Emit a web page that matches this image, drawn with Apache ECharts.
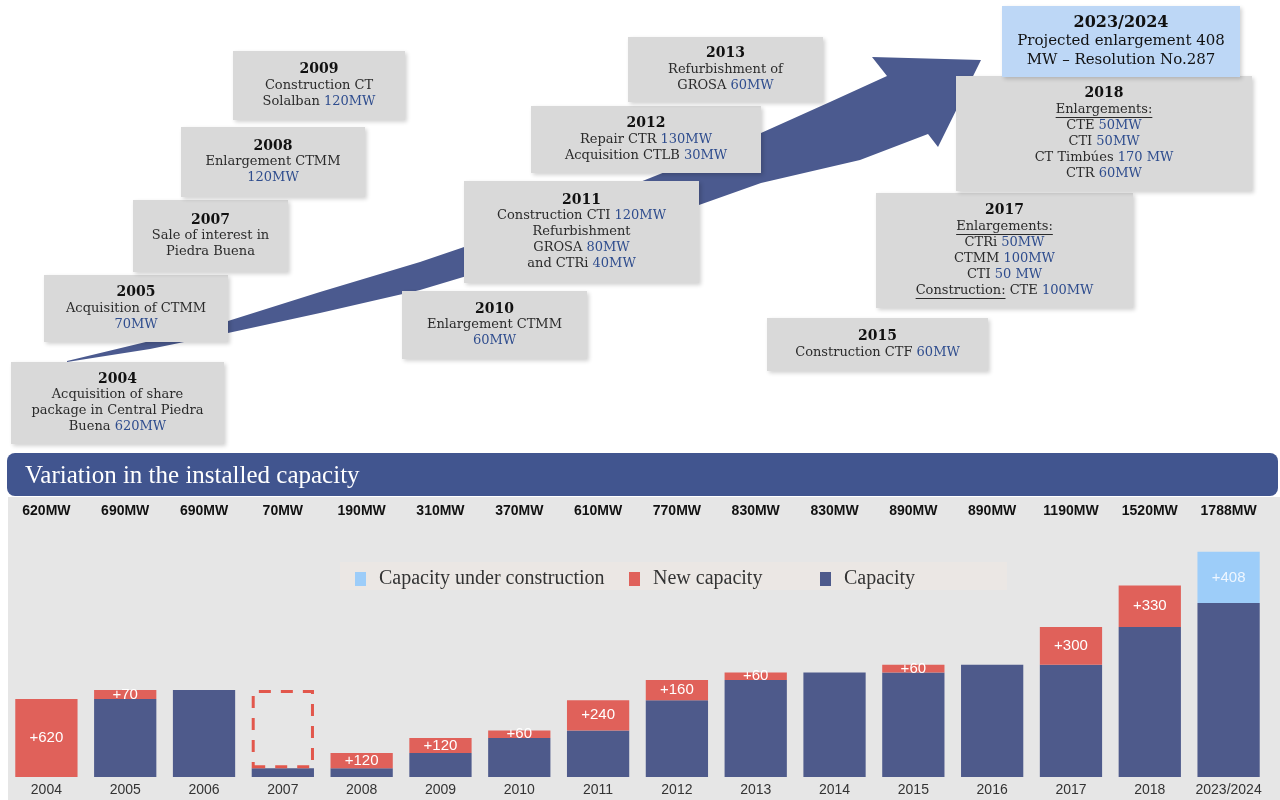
<!DOCTYPE html>
<html><head><meta charset="utf-8">
<script src="https://cdn.jsdelivr.net/npm/echarts/dist/echarts.min.js"></script>
<style>html,body{margin:0;padding:0;background:#fff}#c{width:1280px;height:800px}</style>
</head><body><div id="c"></div>
<script>
// ---- Data ----
const years = ['2004','2005','2006','2007','2008','2009','2010','2011','2012','2013','2014','2015','2016','2017','2018','2023/2024'];
const capacity = [null,620,690,70,70,190,310,370,610,770,830,830,890,890,1190,1380];
const newCapacity = [620,70,null,null,120,120,60,240,160,60,null,60,null,300,330,null];
const soldCapacity = [null,null,null,620,null,null,null,null,null,null,null,null,null,null,null,null];
const underConstruction = [null,null,null,null,null,null,null,null,null,null,null,null,null,null,null,408];
const totalLabels = ['620MW','690MW','690MW','70MW','190MW','310MW','370MW','610MW','770MW','830MW','830MW','890MW','890MW','1190MW','1520MW','1788MW'];

const eventYears = ['2004','2005','2007','2008','2009','2010','2011','2012','2013','2015','2017','2018','2023/2024'];
const eventTexts = [
  ['Acquisition of share','package in Central Piedra','Buena [620MW]'],
  ['Acquisition of CTMM','[70MW]'],
  ['Sale of interest in','Piedra Buena'],
  ['Enlargement CTMM','[120MW]'],
  ['Construction CT','Solalban [120MW]'],
  ['Enlargement CTMM','[60MW]'],
  ['Construction CTI [120MW]','Refurbishment','GROSA [80MW]','and CTRi [40MW]'],
  ['Repair CTR [130MW]','Acquisition CTLB [30MW]'],
  ['Refurbishment of','GROSA [60MW]'],
  ['Construction CTF [60MW]'],
  ['_Enlargements:_','CTRi [50MW]','CTMM [100MW]','CTI [50 MW]','_Construction:_ CTE [100MW]'],
  ['_Enlargements:_','CTE [50MW]','CTI [50MW]','CT Timbúes [170 MW]','CTR [60MW]'],
  ['Projected enlargement 408','MW – Resolution No.287']
];
// layout of annotation boxes [x, y, w, h]
const boxLayout = [
  [11,362,213,82],[44,275,184,67],[133,200,155,72],[181,127,184,70],[233,51,172,69],
  [402,291,185,68],[464,181,235,102],[531,106,230,67],[628,37,195,65],[767,318,221,53],
  [876,193,257,115],[956,76,296,115],[1002,6,238,71]
];

// ---- Styling ----
const NAVY = '#4e5a8b', RED = '#e0615a', LBLUE = '#9dcdf9';
const SERIF = '"DejaVu Serif", Georgia, serif';
const mctx = document.createElement('canvas').getContext('2d');
function tw(s, font){ mctx.font = font; return mctx.measureText(s).width; }
function parseLine(s){
  const parts = s.split(/(\[[^\]]+\]|_[^_]+_)/).filter(p => p.length);
  return parts.map(p => {
    if (p[0] === '[') return {t:p.slice(1,-1), s:'m'};
    if (p[0] === '_') return {t:p.slice(1,-1), s:'u'};
    return {t:p, s:'t'};
  });
}

const graphics = [];
// arrow (decorative shape)
const arrowPts = [[67,361],[150,341],[228,321],[320,292],[420,262],[520,228],[600,198],[680,166],[761,133],[830,102],[887,76],[872,57],[981,60],[938,147],[928,134],[860,160],[761,183],[699,205],[600,236],[520,260],[420,290],[320,313],[228,333],[150,349],[67,362]];
graphics.push({type:'polygon', z:-5, silent:true, shape:{points:arrowPts}, style:{fill:'#4b5a8f'}});

eventYears.forEach((yr, i) => {
  const [bx,by,bw,bh] = boxLayout[i];
  const big = i === eventYears.length - 1;
  const fs = big ? 15 : 13, lh = big ? 19 : 16;
  const lines = [yr].concat(eventTexts[i]);
  const startY = (bh - lines.length*lh)/2 + lh/2;
  const children = [{type:'rect', shape:{x:0,y:0,width:bw,height:bh},
    style:{fill: big ? '#bdd7f6' : '#d9d9d9', shadowBlur:4, shadowOffsetX:2, shadowOffsetY:2, shadowColor:'rgba(0,0,0,0.18)'}}];
  const rich = {
    y:{fontSize:fs+1, fontFamily:SERIF, fontWeight:'bold', fill:'#111'},
    t:{fontSize:fs, fontFamily:SERIF, fill: big ? '#111' : '#2b2b2b'},
    u:{fontSize:fs, fontFamily:SERIF, fill:'#2b2b2b'},
    m:{fontSize:fs, fontFamily:SERIF, fill:'#2f4d8e'}
  };
  lines.forEach((ln, j) => {
    const cy = startY + j*lh;
    const segs = j === 0 ? [{t:ln, s:'y'}] : parseLine(ln);
    const text = segs.map(sg => '{' + sg.s + '|' + sg.t + '}').join('');
    children.push({type:'text', style:{text, rich, x:bw/2, y:cy, align:'center', verticalAlign:'middle', textAlign:'center', textVerticalAlign:'middle'}});
    const widths = segs.map(sg => tw(sg.t, (sg.s==='y'?'bold ':'') + (sg.s==='y'?fs+1:fs) + 'px ' + SERIF));
    const W = widths.reduce((a,b)=>a+b,0);
    let x0 = bw/2 - W/2;
    segs.forEach((sg, k) => {
      if (sg.s === 'u') children.push({type:'line', shape:{x1:x0, y1:cy+fs*0.5+1.5, x2:x0+widths[k], y2:cy+fs*0.5+1.5}, style:{stroke:'#2b2b2b', lineWidth:1}});
      x0 += widths[k];
    });
  });
  graphics.push({type:'group', x:bx, y:by, z:-4, silent:true, children});
});
// chart background, banner, legend background
graphics.push({type:'rect', z:-10, silent:true, shape:{x:8,y:497,width:1272,height:303}, style:{fill:'#e6e6e6'}});
graphics.push({type:'rect', z:-9, silent:true, shape:{x:7,y:453,width:1271,height:43,r:8}, style:{fill:'#41558f'}});
graphics.push({type:'text', z:-8, silent:true, style:{text:'Variation in the installed capacity', x:25, y:476, fill:'#fff', font:'25px "Liberation Serif", "Times New Roman", serif', verticalAlign:'middle', textVerticalAlign:'middle'}});
graphics.push({type:'rect', z:-9, silent:true, shape:{x:340,y:562,width:667,height:28}, style:{fill:'#ebe7e4'}});

const legendText = {fontFamily:'"Liberation Serif", "Times New Roman", serif', fontSize:20, color:'#333', padding:[0,0,0,8]};
const barFont = '"Liberation Sans Narrow", "Liberation Sans", Arial, sans-serif';

const chart = echarts.init(document.getElementById('c'));
chart.setOption({
  animation:false,
  backgroundColor:'#fff',
  graphic: graphics,
  legend:[
    {data:['Capacity under construction'], left:350, top:564, icon:'rect', itemWidth:11, itemHeight:14, textStyle:legendText},
    {data:['New capacity'], left:624, top:564, icon:'rect', itemWidth:11, itemHeight:14, textStyle:legendText},
    {data:['Capacity'], left:815, top:564, icon:'rect', itemWidth:11, itemHeight:14, textStyle:legendText}
  ],
  grid:{left:7, right:12, top:525, bottom:23, containLabel:false},
  xAxis:[
    {type:'category', data:years, position:'bottom', axisLine:{show:false}, axisTick:{show:false},
     axisLabel:{interval:0, margin:6, fontSize:14, color:'#333', fontFamily:barFont}},
    {type:'category', data:totalLabels, position:'top', axisLine:{show:false}, axisTick:{show:false},
     axisLabel:{interval:0, margin:7, fontSize:14, fontWeight:'bold', color:'#111', fontFamily:barFont}}
  ],
  yAxis:{type:'value', min:0, max:2000, show:false},
  series:[
    {name:'Capacity', type:'bar', stack:'total', barWidth:'79%', data:capacity, itemStyle:{color:NAVY}},
    {name:'New capacity', type:'bar', stack:'total', barWidth:'79%', data:newCapacity, itemStyle:{color:RED},
     label:{show:true, position:'inside', formatter:p => '+' + p.value, color:'#fff', fontSize:15, fontFamily:barFont}},
    {name:'Sold', type:'bar', stack:'total', barWidth:'79%', data:soldCapacity,
     itemStyle:{color:'rgba(0,0,0,0)', borderColor:'#e2574c', borderWidth:3, borderType:[12,10]}},
    {name:'Capacity under construction', type:'bar', stack:'total', barWidth:'79%', data:underConstruction, itemStyle:{color:LBLUE},
     label:{show:true, position:'inside', formatter:p => '+' + p.value, color:'#eef6ff', fontSize:15, fontFamily:barFont}}
  ]
});
</script></body></html>
